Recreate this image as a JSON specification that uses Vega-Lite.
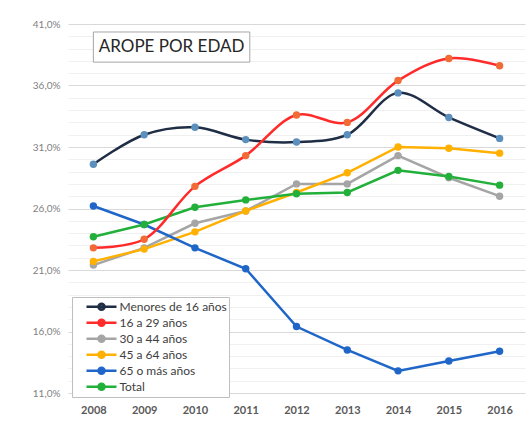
{
  "$schema": "https://vega.github.io/schema/vega-lite/v6.json",
  "width": 457,
  "height": 369,
  "autosize": "none",
  "padding": {"left": 68, "top": 24, "right": 5, "bottom": 28},
  "background": "white",
  "config": {
    "font": "Lato",
    "view": {"stroke": null},
    "axis": {"domain": false, "ticks": false}
  },
  "data": {
    "values": [
      {"year": 2008, "series": "Menores de 16 años", "value": 29.6},
      {"year": 2009, "series": "Menores de 16 años", "value": 32.0},
      {"year": 2010, "series": "Menores de 16 años", "value": 32.6},
      {"year": 2011, "series": "Menores de 16 años", "value": 31.6},
      {"year": 2012, "series": "Menores de 16 años", "value": 31.4},
      {"year": 2013, "series": "Menores de 16 años", "value": 32.0},
      {"year": 2014, "series": "Menores de 16 años", "value": 35.4},
      {"year": 2015, "series": "Menores de 16 años", "value": 33.4},
      {"year": 2016, "series": "Menores de 16 años", "value": 31.7},
      {"year": 2008, "series": "16 a 29 años", "value": 22.8},
      {"year": 2009, "series": "16 a 29 años", "value": 23.5},
      {"year": 2010, "series": "16 a 29 años", "value": 27.8},
      {"year": 2011, "series": "16 a 29 años", "value": 30.3},
      {"year": 2012, "series": "16 a 29 años", "value": 33.6},
      {"year": 2013, "series": "16 a 29 años", "value": 33.0},
      {"year": 2014, "series": "16 a 29 años", "value": 36.4},
      {"year": 2015, "series": "16 a 29 años", "value": 38.2},
      {"year": 2016, "series": "16 a 29 años", "value": 37.6},
      {"year": 2008, "series": "30 a 44 años", "value": 21.4},
      {"year": 2009, "series": "30 a 44 años", "value": 22.8},
      {"year": 2010, "series": "30 a 44 años", "value": 24.8},
      {"year": 2011, "series": "30 a 44 años", "value": 25.8},
      {"year": 2012, "series": "30 a 44 años", "value": 28.0},
      {"year": 2013, "series": "30 a 44 años", "value": 28.0},
      {"year": 2014, "series": "30 a 44 años", "value": 30.3},
      {"year": 2015, "series": "30 a 44 años", "value": 28.5},
      {"year": 2016, "series": "30 a 44 años", "value": 27.0},
      {"year": 2008, "series": "45 a 64 años", "value": 21.7},
      {"year": 2009, "series": "45 a 64 años", "value": 22.7},
      {"year": 2010, "series": "45 a 64 años", "value": 24.1},
      {"year": 2011, "series": "45 a 64 años", "value": 25.8},
      {"year": 2012, "series": "45 a 64 años", "value": 27.3},
      {"year": 2013, "series": "45 a 64 años", "value": 28.9},
      {"year": 2014, "series": "45 a 64 años", "value": 31.0},
      {"year": 2015, "series": "45 a 64 años", "value": 30.9},
      {"year": 2016, "series": "45 a 64 años", "value": 30.5},
      {"year": 2008, "series": "65 o más años", "value": 26.2},
      {"year": 2009, "series": "65 o más años", "value": 24.7},
      {"year": 2010, "series": "65 o más años", "value": 22.8},
      {"year": 2011, "series": "65 o más años", "value": 21.1},
      {"year": 2012, "series": "65 o más años", "value": 16.4},
      {"year": 2013, "series": "65 o más años", "value": 14.5},
      {"year": 2014, "series": "65 o más años", "value": 12.8},
      {"year": 2015, "series": "65 o más años", "value": 13.6},
      {"year": 2016, "series": "65 o más años", "value": 14.4},
      {"year": 2008, "series": "Total", "value": 23.7},
      {"year": 2009, "series": "Total", "value": 24.7},
      {"year": 2010, "series": "Total", "value": 26.1},
      {"year": 2011, "series": "Total", "value": 26.7},
      {"year": 2012, "series": "Total", "value": 27.2},
      {"year": 2013, "series": "Total", "value": 27.3},
      {"year": 2014, "series": "Total", "value": 29.1},
      {"year": 2015, "series": "Total", "value": 28.6},
      {"year": 2016, "series": "Total", "value": 27.9}
    ]
  },
  "encoding": {
    "x": {
      "field": "year", "type": "quantitative",
      "scale": {"domain": [2007.5, 2016.5], "nice": false, "zero": false},
      "axis": {
        "title": null, "grid": false, "values": [2008, 2009, 2010, 2011, 2012, 2013, 2014, 2015, 2016],
        "format": "d", "labelFont": "Lato", "labelFontSize": 11, "labelFontWeight": "bold",
        "labelColor": "#595959", "labelPadding": 11
      }
    },
    "y": {
      "field": "value", "type": "quantitative",
      "scale": {"domain": [11, 41], "nice": false, "zero": false},
      "axis": {
        "title": null,
        "values": [11,12,13,14,15,16,17,18,19,20,21,22,23,24,25,26,27,28,29,30,31,32,33,34,35,36,37,38,39,40,41],
        "labelExpr": "datum.value % 5 == 1 ? replace(format(datum.value, '.1f'), '.', ',') + '%' : ''",
        "gridColor": {"condition": {"test": "datum.value % 5 == 1", "value": "#d9d9d9"}, "value": "#f0f0f0"},
        "gridWidth": 1,
        "labelColor": "#7f7f7f", "labelFontSize": 10, "labelPadding": 8
      }
    }
  },
  "layer": [
    {
      "transform": [{"filter": "datum.year == 2008 && datum.series == 'Total'"}],
      "mark": {"type": "rect", "fill": "white", "stroke": "#a6a6a6", "strokeWidth": 1},
      "encoding": {
        "x": {"datum": 2008.0, "type": "quantitative"},
        "x2": {"datum": 2011.08},
        "y": {"datum": 40.35, "type": "quantitative"},
        "y2": {"datum": 37.9}
      }
    },
    {
      "transform": [{"filter": "datum.year == 2008 && datum.series == 'Total'"}],
      "mark": {"type": "text", "text": "AROPE POR EDAD", "font": "Lato", "fontSize": 17, "color": "#262626", "align": "center", "baseline": "middle"},
      "encoding": {
        "x": {"datum": 2009.54, "type": "quantitative"},
        "y": {"datum": 39.12, "type": "quantitative"}
      }
    },
    {
      "transform": [{"filter": "datum.series != 'Menores de 16 años' && datum.series != '16 a 29 años'"}],
      "mark": {"type": "line", "strokeWidth": 2.5},
      "encoding": {
        "color": {
          "field": "series", "type": "nominal",
          "scale": {
            "domain": ["Menores de 16 años", "16 a 29 años", "30 a 44 años", "45 a 64 años", "65 o más años", "Total"],
            "range": ["#1f2d45", "#ff2b2b", "#a5a5a5", "#ffb000", "#1f66c8", "#22b03a"]
          },
          "legend": {
            "title": null,
            "orient": "none",
            "legendX": 4,
            "legendY": 273,
            "strokeColor": "#bfbfbf",
            "fillColor": "white",
            "padding": 2,
            "symbolType": "M-1,0H1M-0.2,0A0.2,0.2,0,1,1,0.2,0A0.2,0.2,0,1,1,-0.2,0Z",
            "symbolSize": 900,
            "symbolStrokeWidth": 2.5,
            "symbolOffset": 11,
            "clipHeight": 15.3,
            "rowPadding": 0,
            "labelFont": "Lato",
            "labelFontSize": 12,
            "labelColor": "#404040",
            "labelOffset": 1.5,
            "encode": {"symbols": {"update": {"fill": {"scale": "color", "field": "value"}, "fillOpacity": {"value": 1}}}}
          }
        }
      }
    },
    {
      "transform": [{"filter": "datum.series == 'Menores de 16 años' || datum.series == '16 a 29 años'"}],
      "mark": {"type": "line", "strokeWidth": 2.5, "interpolate": "catmull-rom"},
      "encoding": {
        "color": {"field": "series", "type": "nominal"}
      }
    },
    {
      "mark": {"type": "point", "filled": true, "size": 55, "opacity": 1},
      "encoding": {
        "fill": {
          "field": "series", "type": "nominal",
          "scale": {
            "domain": ["Menores de 16 años", "16 a 29 años", "30 a 44 años", "45 a 64 años", "65 o más años", "Total"],
            "range": ["#5b8fbd", "#f26a35", "#a5a5a5", "#ffb000", "#1f66c8", "#22b03a"]
          },
          "legend": null
        }
      }
    }
  ]
}
